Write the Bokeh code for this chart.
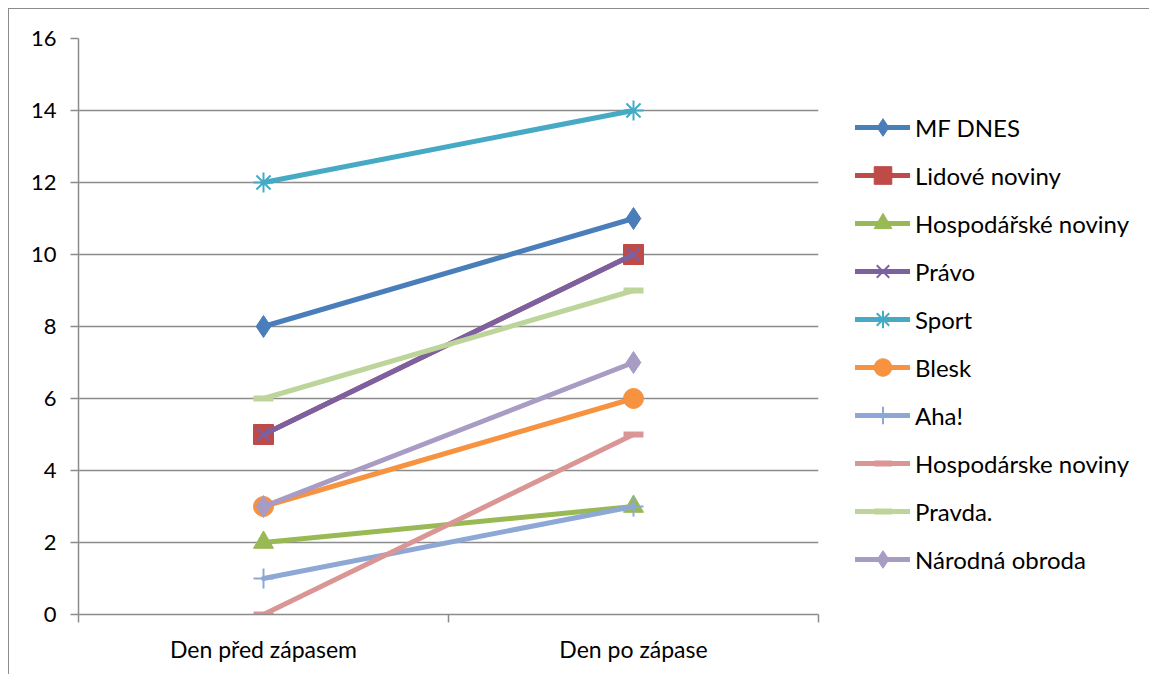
from bokeh.plotting import figure
from bokeh.models import FixedTicker, Legend, LegendItem, Range1d
from bokeh.embed import file_html
from bokeh.resources import INLINE

categories = ["Den před zápasem", "Den po zápase"]
series_names = ["MF DNES", "Lidové noviny", "Hospodářské noviny", "Právo", "Sport",
                "Blesk", "Aha!", "Hospodárske noviny", "Pravda.", "Národná obroda"]
mf_dnes = [8, 11]
lidove_noviny = [5, 10]
hospodarske_noviny_cz = [2, 3]
pravo = [5, 10]
sport = [12, 14]
blesk = [3, 6]
aha = [1, 3]
hospodarske_noviny_sk = [0, 5]
pravda = [6, 9]
narodna_obroda = [3, 7]
y_ticks = [0, 2, 4, 6, 8, 10, 12, 14, 16]

values = [mf_dnes, lidove_noviny, hospodarske_noviny_cz, pravo, sport,
          blesk, aha, hospodarske_noviny_sk, pravda, narodna_obroda]
colors = ["#4A7EBB", "#BE4B48", "#98B954", "#7D60A0", "#46AAC5",
          "#F69240", "#8EA8D6", "#D99694", "#BDD59A", "#A89BC4"]
markers = ["diamond", "square", "triangle", "x", "asterisk",
           "circle", "cross", "dash", "dash", "diamond"]
msizes = [22, 20, 20, 18, 20, 20, 20, 20, 20, 22]

FONT = "Lato"
xs = [i + 0.5 for i in range(len(categories))]

p = figure(frame_width=740, frame_height=576, output_backend="svg", toolbar_location=None,
           x_range=Range1d(0, len(categories)), y_range=Range1d(0, 16),
           min_border_left=69, min_border_top=29, min_border_right=10, min_border_bottom=60)
p.margin = (8, 0, 0, 8)
p.styles = {"border-left": "1px solid #8c8c8c", "border-top": "1px solid #8c8c8c"}
p.outline_line_color = None
p.background_fill_color = "white"

p.xgrid.grid_line_color = None
p.ygrid.grid_line_color = "#8c8c8c"
p.ygrid.grid_line_width = 1.5
p.ygrid.ticker = FixedTicker(ticks=y_ticks)

p.xaxis.ticker = FixedTicker(ticks=xs, minor_ticks=[0, 1, 2])
p.xaxis.major_label_overrides = {x: c for x, c in zip(xs, categories)}
p.xaxis.major_tick_out = 0
p.xaxis.major_tick_in = 0
p.xaxis.minor_tick_out = 8
p.xaxis.minor_tick_in = 0
p.xaxis.minor_tick_line_color = "#8c8c8c"
p.xaxis.minor_tick_line_width = 1.5
p.xaxis.axis_line_color = "#8c8c8c"
p.xaxis.axis_line_width = 1.5
p.xaxis.major_label_standoff = 12
p.xaxis.major_label_text_font = FONT
p.xaxis.major_label_text_font_size = "23px"
p.xaxis.major_label_text_color = "black"

p.yaxis.ticker = FixedTicker(ticks=y_ticks, minor_ticks=[])
p.yaxis.major_tick_out = 8
p.yaxis.major_tick_in = 0
p.yaxis.major_tick_line_color = "#8c8c8c"
p.yaxis.major_tick_line_width = 1.5
p.yaxis.axis_line_color = "#8c8c8c"
p.yaxis.axis_line_width = 1.5
p.yaxis.major_label_standoff = 14
p.yaxis.major_label_text_font = FONT
p.yaxis.major_label_text_font_size = "22px"
p.yaxis.major_label_text_color = "black"

items = []
for name, vals, col, mk, ms in zip(series_names, values, colors, markers, msizes):
    lr = p.line(xs, vals, line_color=col, line_width=5, line_cap="round")
    if mk in ("x", "asterisk", "cross"):
        mr = p.scatter(xs, vals, marker=mk, size=ms, line_color=col, line_width=2, fill_color=col)
    elif mk == "dash":
        mr = p.scatter(xs, vals, marker=mk, size=ms, line_color=col, line_width=6)
    else:
        mr = p.scatter(xs, vals, marker=mk, size=ms, line_color=col, fill_color=col, line_width=1)
    items.append(LegendItem(label=name, renderers=[lr, mr]))

legend = Legend(items=items, location=(37, 33), border_line_color=None,
                background_fill_alpha=0, glyph_width=55, glyph_height=44,
                label_height=24, spacing=4, padding=0, margin=0, label_standoff=5,
                label_text_font=FONT, label_text_font_size="24px",
                label_text_color="black")
p.add_layout(legend, "right")

open("out.html", "w").write(file_html(p, INLINE))
